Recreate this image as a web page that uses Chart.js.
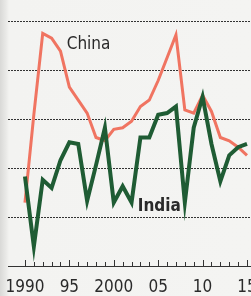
<!DOCTYPE html>
<html>
<head>
<meta charset="utf-8">
<script src="https://cdn.jsdelivr.net/npm/chart.js@4/dist/chart.umd.min.js"></script>
<style>
html,body{margin:0;padding:0;}
body{width:251px;height:296px;overflow:hidden;background:linear-gradient(to right,#d9d9d7 0px,#e9e9e7 6px,#f3f3f1 9px,#f4f4f2 100%);}
canvas{display:block;}
</style>
</head>
<body>
<canvas id="c" width="251" height="296"></canvas>
<script>
const years = [1990,1991,1992,1993,1994,1995,1996,1997,1998,1999,2000,2001,2002,2003,2004,2005,2006,2007,2008,2009,2010,2011,2012,2013,2014,2015];
const china = [3.9,9.3,14.3,14.0,13.2,11.0,10.2,9.4,7.9,7.7,8.4,8.5,8.9,9.8,10.2,11.4,12.8,14.2,9.6,9.4,10.5,9.5,7.9,7.7,7.3,6.8];
const india = [5.5,1.2,5.3,4.8,6.5,7.6,7.5,4.0,6.2,8.5,3.9,4.9,3.9,7.9,7.9,9.3,9.4,9.8,3.9,8.5,10.4,7.5,5.2,6.8,7.3,7.5];
const tickYears = [1990,1995,2000,2005,2010,2015];
const tickLabels = ['1990','95','2000','05','10','15'];
const gridValues = [3,6,9,12,15];
const seriesNames = ['China','India'];
const FONT = '"DejaVu Sans Condensed", "Liberation Sans Narrow", "Open Sans", sans-serif';

const annot = {
  id:'annot',
  afterDatasetsDraw(chart){
    const {ctx, scales:{x,y}, chartArea} = chart;
    ctx.save();
    ctx.strokeStyle = '#333';
    ctx.lineWidth = 1;
    for (let yr = years[0]; yr <= years[years.length-1]; yr++) {
      const px = Math.round(x.getPixelForValue(yr)) + 0.5;
      const len = (yr % 5 === 0) ? 6 : 4;
      ctx.beginPath();
      ctx.moveTo(px, chartArea.bottom);
      ctx.lineTo(px, chartArea.bottom - len);
      ctx.stroke();
    }
    ctx.fillStyle = '#2a2a2a';
    ctx.textBaseline = 'middle';
    ctx.textAlign = 'left';
    ctx.font = '17px ' + FONT;
    ctx.fillText(seriesNames[0], x.getPixelForValue(1994.7), y.getPixelForValue(13.6));
    ctx.font = 'bold 17px ' + FONT;
    ctx.fillText(seriesNames[1], x.getPixelForValue(2002.7), y.getPixelForValue(3.65));
    ctx.restore();
  }
};

new Chart(document.getElementById('c'), {
  type:'line',
  data:{
    labels: years,
    datasets:[
      {label:seriesNames[1], data: years.map((yr,i)=>({x:yr,y:india[i]})), borderColor:'#1f5c34', borderWidth:4, pointRadius:0, tension:0},
      {label:seriesNames[0], data: years.map((yr,i)=>({x:yr,y:china[i]})), borderColor:'#f07461', borderWidth:3, pointRadius:0, tension:0}
    ]
  },
  options:{
    responsive:false,
    animation:false,
    devicePixelRatio:1,
    layout:{padding:{left:8,right:0,top:0,bottom:0}},
    plugins:{legend:{display:false},tooltip:{enabled:false}},
    scales:{
      x:{
        type:'linear',
        min:1988.09, max:2015.45,
        afterBuildTicks(scale){ scale.ticks = tickYears.map(v=>({value:v})); },
        afterFit(scale){ scale.height = 30; scale.paddingLeft = 0; scale.paddingRight = 0; },
        ticks:{
          autoSkip:false, maxRotation:0, padding:11,
          color:'#2a2a2a',
          font:{family:FONT, size:17},
          callback(v){ const i = tickYears.indexOf(v); return i>=0 ? tickLabels[i] : ''; }
        },
        grid:{display:false, drawTicks:false},
        border:{display:true, color:'#333', width:1}
      },
      y:{
        min:0, max:16.35,
        afterBuildTicks(scale){ scale.ticks = gridValues.map(v=>({value:v})); },
        afterFit(scale){ scale.width = 0; },
        ticks:{display:false},
        grid:{color:'#333', lineWidth:1, drawTicks:false},
        border:{display:false, dash:[2,1]}
      }
    }
  },
  plugins:[annot]
});
</script>
</body>
</html>
